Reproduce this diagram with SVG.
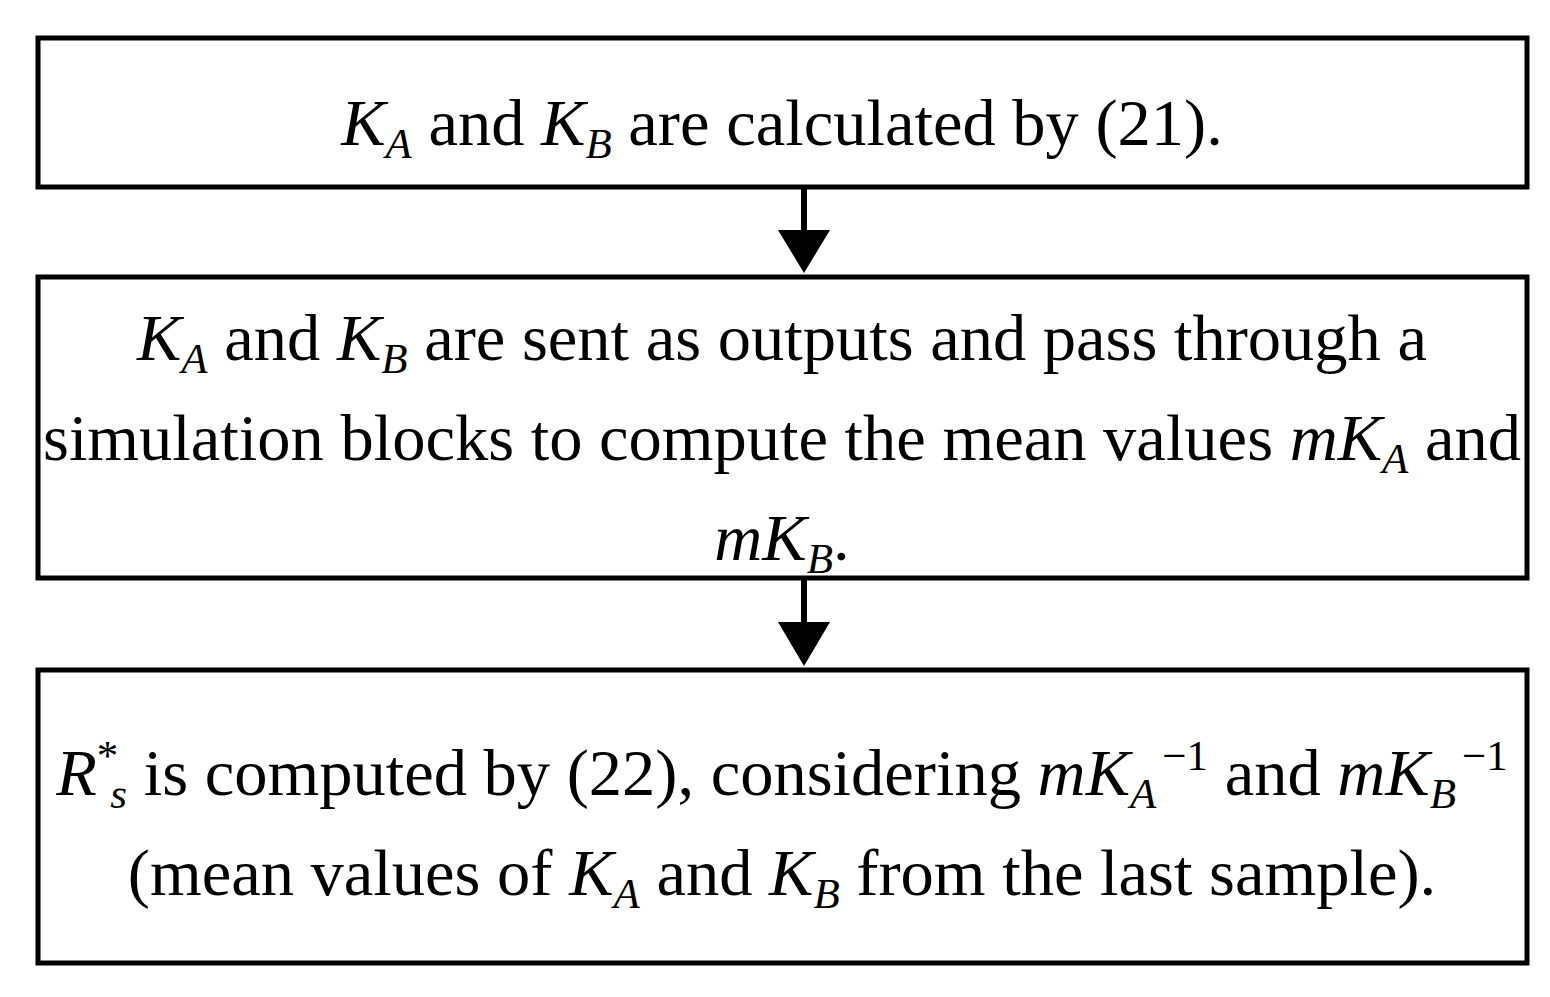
<svg xmlns="http://www.w3.org/2000/svg" width="1550" height="997" viewBox="0 0 1550 997">
<style>
.box{fill:#fff;stroke:#000;stroke-width:5}
text{font-family:"Liberation Serif","Times New Roman",serif;font-size:66.5px;fill:#000;text-anchor:middle}
.i{font-style:italic}
.s{font-size:43px}
</style>
<rect width="1550" height="997" fill="#fff"/>
<g id="connectors">
<line x1="804" y1="187" x2="804" y2="232" stroke="#000" stroke-width="6"/>
<polygon points="778,230 830,230 804,273" fill="#000"/>
<line x1="804" y1="578" x2="804" y2="624" stroke="#000" stroke-width="6"/>
<polygon points="778,622 830,622 804,666" fill="#000"/>
</g>
<g id="node1">
<rect class="box" x="38" y="38" width="1489" height="149"/>
<text x="782" y="145"><tspan class="i">K</tspan><tspan class="s i" dy="13">A</tspan><tspan dy="-13"> and </tspan><tspan class="i">K</tspan><tspan class="s i" dy="13">B</tspan><tspan dy="-13"> are calculated by (21).</tspan></text>
</g>
<g id="node2">
<rect class="box" x="38" y="277" width="1489" height="301"/>
<text x="782" y="360"><tspan class="i">K</tspan><tspan class="s i" dy="13">A</tspan><tspan dy="-13"> and </tspan><tspan class="i">K</tspan><tspan class="s i" dy="13">B</tspan><tspan dy="-13"> are sent as outputs and pass through a</tspan></text>
<text x="782" y="460">simulation blocks to compute the mean values <tspan class="i">mK</tspan><tspan class="s i" dy="13">A</tspan><tspan dy="-13"> and</tspan></text>
<text x="782" y="560"><tspan class="i">mK</tspan><tspan class="s i" dy="13">B</tspan><tspan dy="-13">.</tspan></text>
</g>
<g id="node3">
<rect class="box" x="38" y="670" width="1489" height="293"/>
<text x="782" y="795"><tspan class="i">R</tspan><tspan class="s" dy="-25">*</tspan><tspan class="s i" dx="-8" dy="38">s</tspan><tspan dy="-13"> is computed by (22), considering </tspan><tspan class="i">mK</tspan><tspan class="s i" dy="13">A</tspan><tspan class="s" dx="6" dy="-38">−1</tspan><tspan dy="25"> and </tspan><tspan class="i">mK</tspan><tspan class="s i" dy="13">B</tspan><tspan class="s" dx="6" dy="-38">−1</tspan></text>
<text x="782" y="895">(mean values of <tspan class="i">K</tspan><tspan class="s i" dy="13">A</tspan><tspan dy="-13"> and </tspan><tspan class="i">K</tspan><tspan class="s i" dy="13">B</tspan><tspan dy="-13"> from the last sample).</tspan></text>
</g>
</svg>
